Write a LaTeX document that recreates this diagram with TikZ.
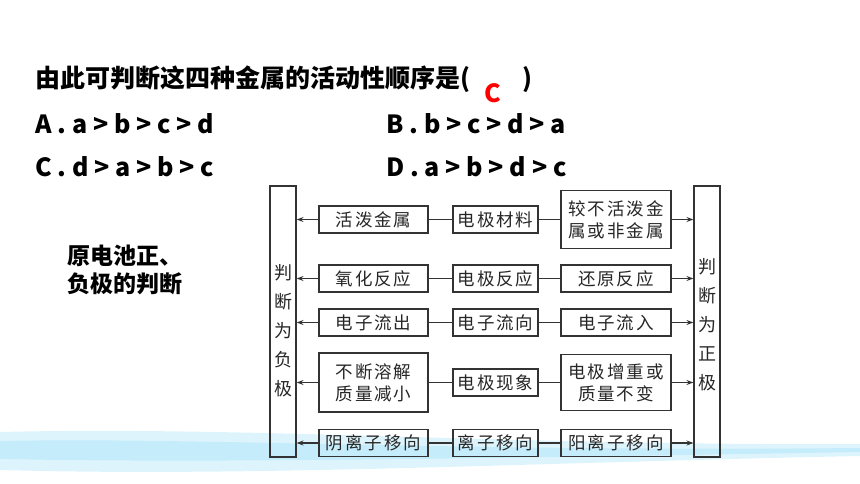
\documentclass[tikz,border=0pt]{standalone}
\usepackage{fontspec}
\setmainfont{Noto Sans CJK SC}
\usetikzlibrary{arrows.meta,positioning}

\tikzset{
  box/.style={draw=black!80, line width=1.1pt, inner sep=0pt, minimum height=27pt,
    font=\fontsize{17.5}{22}\selectfont\addfontfeatures{LetterSpace=11}, text=black!85, align=center},
  tallbox/.style={draw=black!80, line width=1.1pt, inner sep=0pt,
    minimum width=26pt, minimum height=271pt},
  sidetext/.style={align=center, text=black!85, font=\fontsize{18}{29}\selectfont},
  arr/.style={draw=black!80, line width=1.1pt, -{Stealth[length=7pt,width=5pt]}},
  link/.style={draw=black!80, line width=1.1pt},
  option/.style={anchor=base west, font=\bfseries\fontsize{25}{30}\selectfont},
}

\begin{document}
\begin{tikzpicture}[x=1pt,y=-1pt]
  \useasboundingbox (0,0) rectangle (860,484);

  % light wave at the bottom
  \fill[cyan!22!white, opacity=0.6] (0,432) .. controls (250,426) and (520,446) .. (860,444)
    -- (860,456) .. controls (520,463) and (250,477) .. (0,470) -- cycle;
  \fill[cyan!40!white, opacity=0.35] (0,441) .. controls (200,437) and (450,452) .. (860,448)
    -- (860,452) .. controls (450,459) and (200,463) .. (0,459) -- cycle;

  % question and choices
  \node[option] (question) at (32,88) {由此可判断这四种金属的活动性顺序是(\hspace{52pt})};
  \node[text=red, font=\bfseries\fontsize{25}{28}\selectfont] (answer) at (493,93) {C};
  \node[option] (optA) at (32,134) {A . a > b > c > d};
  \node[option] (optB) at (383,134) {B . b > c > d > a};
  \node[option] (optC) at (32,177) {C . d > a > b > c};
  \node[option] (optD) at (383,177) {D . a > b > d > c};

  \node[anchor=west, align=left, font=\bfseries\fontsize{23}{28}\selectfont] (topic) at (64,270)
    {原电池正、\\负极的判断};

  % side boxes
  \node[tallbox] (neg) at (283,321.5) {};
  \node[tallbox] (pos) at (707,321.5) {};
  \node[sidetext] (negtext) at (283,331) {判\\断\\为\\负\\极};
  \node[sidetext] (postext) at (707,325) {判\\断\\为\\正\\极};

  % rows: left box, middle box, right box
  \foreach \i/\y/\lh/\rh/\ltxt/\mtxt/\rtxt in {
      1/219.5/27/58/活泼金属/电极材料/{较不活泼金\\属或非金属},
      2/278.5/27/27/氧化反应/电极反应/还原反应,
      3/322.5/27/27/电子流出/电子流向/电子流入,
      4/382.5/59/56/{不断溶解\\质量减小}/电极现象/{电极增重或\\质量不变},
      5/443/27/27/阴离子移向/离子移向/阳离子移向} {
    \node[box, minimum width=109pt, minimum height=\lh pt] (l\i) at (373.5,\y) {\ltxt};
    \node[box, minimum width=85pt] (m\i) at (495.5,\y) {\mtxt};
    \node[box, minimum width=110pt, minimum height=\rh pt] (r\i) at (616,\y) {\rtxt};
    \draw[link] (m\i) -- (l\i);
    \draw[link] (m\i) -- (r\i);
    \draw[arr] (l\i.west) -- (l\i.west -| neg.east);
    \draw[arr] (r\i.east) -- (r\i.east -| pos.west);
  }
\end{tikzpicture}
\end{document}
